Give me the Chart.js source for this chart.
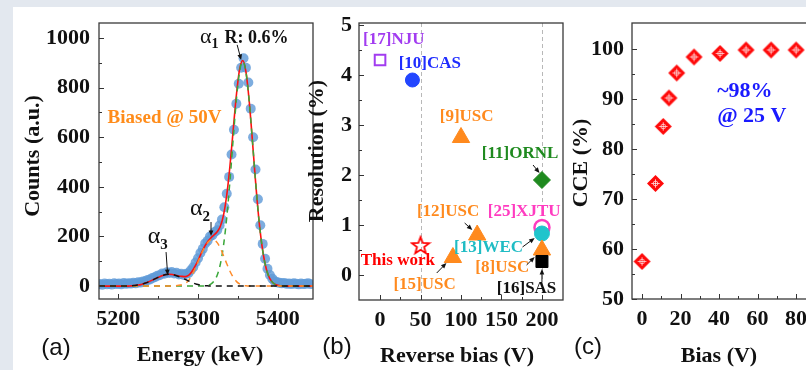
<!DOCTYPE html>
<html>
<head>
<meta charset="utf-8">
<script src="https://cdn.jsdelivr.net/npm/chart.js@4.4.1/dist/chart.umd.min.js"></script>
<style>
  html, body { margin: 0; padding: 0; width: 806px; height: 370px; overflow: hidden; background: #e3e8ef; }
  #sheet { position: absolute; left: 13px; top: 7px; right: 0; bottom: 0; background: #fff; }
  canvas { position: absolute; left: 0; top: 0; }
</style>
</head>
<body>
<div id="sheet"></div>
<canvas id="chartA" width="806" height="370"></canvas>
<canvas id="chartB" width="806" height="370"></canvas>
<canvas id="chartC" width="830" height="370"></canvas>
<script>
/* =====================
   DATA (a) alpha spectrum
===================== */
const fitEnergy = [
  5176, 5180, 5184, 5188, 5192, 5196, 5200, 5204, 5208, 5212,
  5216, 5220, 5224, 5228, 5232, 5236, 5240, 5244, 5248, 5252,
  5256, 5260, 5264, 5268, 5272, 5276, 5280, 5284, 5288, 5292,
  5296, 5300, 5304, 5308, 5312, 5316, 5320, 5324, 5328, 5332,
  5336, 5340, 5344, 5348, 5352, 5356, 5360, 5364, 5368, 5372,
  5376, 5380, 5384, 5388, 5392, 5396, 5400, 5404, 5408, 5412,
  5416, 5420, 5424, 5428, 5432, 5436, 5440, 5444
];
const fitSum = [
  0, 0, 0, 0, 0, 0, 0, 0, 0, 0,
  1, 2, 4, 6, 10, 14, 20, 26, 32, 38,
  43, 47, 48, 47, 44, 41, 39, 38, 43, 57,
  78, 103, 132, 158, 179, 194, 206, 219, 241, 287,
  367, 484, 627, 768, 872, 909, 864, 749, 591, 424,
  277, 165, 89, 44, 20, 8, 3, 1, 0, 0,
  0, 0, 0, 0, 0, 0, 0, 0
];
const fitAlpha1 = [
  0, 0, 0, 0, 0, 0, 0, 0, 0, 0,
  0, 0, 0, 0, 0, 0, 0, 0, 0, 0,
  0, 0, 0, 0, 0, 0, 0, 0, 0, 0,
  0, 0, 0, 1, 3, 8, 20, 44, 89, 165,
  277, 424, 591, 749, 863, 905, 863, 749, 591, 424,
  277, 165, 89, 44, 20, 8, 3, 1, 0, 0,
  0, 0, 0, 0, 0, 0, 0, 0
];
const fitAlpha2 = [
  0, 0, 0, 0, 0, 0, 0, 0, 0, 0,
  0, 0, 0, 0, 0, 0, 0, 0, 0, 0,
  0, 0, 0, 0, 1, 3, 6, 11, 22, 42,
  68, 97, 128, 155, 175, 186, 186, 175, 152, 122,
  90, 60, 36, 19, 9, 4, 1, 0, 0, 0,
  0, 0, 0, 0, 0, 0, 0, 0, 0, 0,
  0, 0, 0, 0, 0, 0, 0, 0
];
const fitAlpha3 = [
  0, 0, 0, 0, 0, 0, 0, 0, 0, 0,
  1, 2, 4, 6, 10, 14, 20, 26, 32, 38,
  43, 47, 48, 47, 43, 38, 33, 27, 21, 15,
  10, 6, 4, 2, 1, 0, 0, 0, 0, 0,
  0, 0, 0, 0, 0, 0, 0, 0, 0, 0,
  0, 0, 0, 0, 0, 0, 0, 0, 0, 0,
  0, 0, 0, 0, 0, 0, 0, 0
];
const dotEnergy = [
  5177, 5180, 5183, 5186, 5189, 5192, 5195, 5198, 5201, 5204,
  5207, 5210, 5213, 5216, 5219, 5222, 5225, 5228, 5231, 5234,
  5237, 5240, 5243, 5246, 5249, 5252, 5255, 5258, 5261, 5264,
  5267, 5270, 5273, 5276, 5279, 5282, 5285, 5288, 5291, 5294,
  5297, 5300, 5303, 5306, 5309, 5312, 5315, 5318, 5321, 5324,
  5327, 5330, 5333, 5336, 5339, 5342, 5345, 5348, 5351, 5354,
  5357, 5360, 5363, 5366, 5369, 5372, 5375, 5378, 5381, 5384,
  5387, 5390, 5393, 5396, 5399, 5402, 5405, 5408, 5411, 5414,
  5417, 5420, 5423, 5426, 5429, 5432, 5435, 5438, 5441
];
const dotCounts = [
  8, 5, 10, 7, 9, 6, 11, 8, 10, 7,
  12, 9, 11, 10, 13, 11, 15, 14, 19, 20,
  25, 27, 33, 36, 42, 44, 51, 50, 56, 53,
  57, 51, 54, 47, 50, 45, 50, 52, 64, 76,
  95, 112, 133, 150, 172, 183, 200, 205, 218, 225,
  244, 268, 318, 372, 440, 530, 630, 735, 815, 880,
  918, 880, 820, 715, 600, 470, 350, 245, 170, 110,
  70, 45, 30, 20, 15, 13, 11, 12, 9, 10,
  8, 11, 9, 7, 10, 8, 9, 11, 8
];
const energyTicks = [5200, 5300, 5400];
const energyMinor = [5250, 5350];
const countTicks = [0, 200, 400, 600, 800, 1000];
const countMinor = [100, 300, 500, 700, 900];

/* =====================
   DATA (b) resolution vs bias
===================== */
const refNames = ['[17]NJU', '[10]CAS', '[9]USC', '[11]ORNL', '[12]USC', '[25]XJTU',
                  '[13]WEC', 'This work', '[8]USC', '[15]USC', '[16]SAS'];
const refBias = [0, 40, 100, 200, 120, 200, 200, 50, 200, 90, 200];
const refRes = [4.3, 3.9, 2.75, 1.9, 0.8, 0.95, 0.83, 0.6, 0.5, 0.35, 0.27];
const reverseTicks = [0, 50, 100, 150, 200];
const reverseMinor = [25, 75, 125, 175];
const resTicks = [0, 1, 2, 3, 4, 5];
const resMinor = [0.5, 1.5, 2.5, 3.5, 4.5];

/* =====================
   DATA (c) CCE vs bias
===================== */
const cceBias = [0, 7, 11, 14, 18, 27, 40.5, 54, 67, 80];
const cceValue = [57.5, 73.1, 84.5, 90.2, 95.2, 98.4, 99.1, 99.8, 99.8, 99.8];
const biasTicks = [0, 20, 40, 60, 80];
const biasMinor = [10, 30, 50, 70];
const cceTicks = [50, 60, 70, 80, 90, 100];
const cceMinor = [55, 65, 75, 85, 95];

/* =====================
   HELPERS
===================== */
const SERIF = '"Liberation Serif", "Times New Roman", serif';
const SANS = '"Liberation Sans", Arial, sans-serif';
Chart.defaults.font.family = SERIF;

const pts = (xs, ys) => xs.map((x, i) => ({ x, y: ys[i] }));

function axis(min, max, ticks, size, horizontal, pad) {
  return {
    type: 'linear', min, max,
    grid: { display: false, drawTicks: false },
    border: { display: false },
    afterBuildTicks: s => { s.ticks = ticks.map(v => ({ value: v })); },
    afterFit: s => { if (horizontal) s.height = size; else s.width = size; },
    ticks: {
      font: { size: 22, weight: 'bold' }, color: '#111', padding: pad,
      maxRotation: 0, autoSkip: false, callback: v => String(v)
    }
  };
}

function arrow(ctx, x1, y1, x2, y2, color) {
  const ang = Math.atan2(y2 - y1, x2 - x1), h = 6;
  ctx.strokeStyle = color; ctx.fillStyle = color; ctx.lineWidth = 1;
  ctx.beginPath();
  ctx.moveTo(x1, y1);
  ctx.lineTo(x2 - Math.cos(ang) * h * 0.8, y2 - Math.sin(ang) * h * 0.8);
  ctx.stroke();
  ctx.beginPath();
  ctx.moveTo(x2, y2);
  ctx.lineTo(x2 - h * Math.cos(ang - 0.4), y2 - h * Math.sin(ang - 0.4));
  ctx.lineTo(x2 - h * Math.cos(ang + 0.4), y2 - h * Math.sin(ang + 0.4));
  ctx.closePath();
  ctx.fill();
}

function alphaText(ctx, x, y, sub, size) {
  ctx.fillStyle = '#111';
  ctx.textAlign = 'left'; ctx.textBaseline = 'alphabetic';
  ctx.font = `${size}px ${SERIF}`;
  ctx.fillText('α', x, y);
  const w = ctx.measureText('α').width;
  ctx.font = `bold ${Math.round(size * 0.62)}px ${SERIF}`;
  ctx.fillText(sub, x + w, y + size * 0.25);
  return x + w + ctx.measureText(sub).width;
}

// frame, inward ticks, titles, extra drawing
function deco(cfg) {
  return {
    id: 'deco',
    beforeDatasetsDraw(chart) {
      if (!cfg.guides) return;
      const { ctx, chartArea: a, scales: { x } } = chart;
      ctx.save();
      ctx.strokeStyle = '#b8b8b8'; ctx.lineWidth = 1; ctx.setLineDash([4, 3]);
      cfg.guides.forEach(v => {
        const p = Math.round(x.getPixelForValue(v)) + 0.5;
        ctx.beginPath(); ctx.moveTo(p, a.top); ctx.lineTo(p, a.bottom); ctx.stroke();
      });
      ctx.restore();
    },
    afterDraw(chart) {
      const { ctx, chartArea: a, scales: { x, y } } = chart;
      ctx.save();
      ctx.strokeStyle = '#333'; ctx.lineWidth = 1;
      ctx.beginPath();
      const tx = (vals, len) => vals.forEach(v => {
        const p = Math.round(x.getPixelForValue(v)) + 0.5;
        ctx.moveTo(p, a.bottom); ctx.lineTo(p, a.bottom - len);
      });
      const ty = (vals, len) => vals.forEach(v => {
        const p = Math.round(y.getPixelForValue(v)) + 0.5;
        ctx.moveTo(a.left, p); ctx.lineTo(a.left + len, p);
      });
      tx(cfg.xMajor, 5); tx(cfg.xMinor, 3); ty(cfg.yMajor, 5); ty(cfg.yMinor, 3);
      ctx.stroke();
      ctx.lineWidth = 1.3; ctx.strokeStyle = '#3a3a3a';
      ctx.strokeRect(a.left, a.top, a.right - a.left, a.bottom - a.top);

      ctx.fillStyle = '#111';
      ctx.textAlign = 'center'; ctx.textBaseline = 'middle';
      ctx.font = `bold 22px ${SERIF}`;
      ctx.fillText(cfg.xTitle, cfg.xTitleAt[0], cfg.xTitleAt[1]);
      ctx.save();
      ctx.translate(cfg.yTitleAt[0], cfg.yTitleAt[1]);
      ctx.rotate(-Math.PI / 2);
      ctx.fillText(cfg.yTitle, 0, 0);
      ctx.restore();
      ctx.font = `24px ${SANS}`;
      ctx.fillText(cfg.letter, cfg.letterAt[0], cfg.letterAt[1]);
      if (cfg.extra) cfg.extra(ctx, x, y);
      ctx.restore();
    }
  };
}

/* =====================
   (a) SPECTRUM
===================== */
const dash = [6, 5];
new Chart(document.getElementById('chartA'), {
  type: 'line',
  data: {
    datasets: [
      { data: pts(fitEnergy, fitAlpha3), borderColor: '#111', borderWidth: 1.5, borderDash: dash,
        pointRadius: 0, cubicInterpolationMode: 'monotone', order: 0 },
      { data: pts(fitEnergy, fitAlpha2), borderColor: '#ff8c2a', borderWidth: 1.5, borderDash: dash,
        pointRadius: 0, cubicInterpolationMode: 'monotone', order: 1 },
      { data: pts(fitEnergy, fitAlpha1), borderColor: '#3aa83a', borderWidth: 1.5, borderDash: dash,
        pointRadius: 0, cubicInterpolationMode: 'monotone', order: 2 },
      { data: pts(fitEnergy, fitSum), borderColor: '#ff1010', borderWidth: 1.6,
        pointRadius: 0, cubicInterpolationMode: 'monotone', order: 3 },
      { data: pts(dotEnergy, dotCounts), showLine: false, pointRadius: 5,
        pointBackgroundColor: 'rgba(96,155,216,0.82)', pointBorderWidth: 0, order: 4 }
    ]
  },
  options: {
    responsive: false, animation: false,
    layout: { padding: { left: 0, top: 23, right: 806 - 313, bottom: 0 } },
    plugins: { legend: { display: false }, tooltip: { enabled: false } },
    scales: {
      x: axis(5176, 5444, energyTicks, 71, true, 7),
      y: axis(-52, 1060, countTicks, 99, false, 9)
    }
  },
  plugins: [deco({
    xMajor: energyTicks, xMinor: energyMinor, yMajor: countTicks, yMinor: countMinor,
    xTitle: 'Energy (keV)', xTitleAt: [200, 355],
    yTitle: 'Counts (a.u.)', yTitleAt: [33, 156],
    letter: '(a)', letterAt: [56, 348],
    extra(ctx, x, y) {
      ctx.fillStyle = '#ff8c1a';
      ctx.font = `bold 19px ${SERIF}`;
      ctx.textAlign = 'center'; ctx.textBaseline = 'middle';
      ctx.fillText('Biased @ 50V', x.getPixelForValue(5258), y.getPixelForValue(677));

      let end = alphaText(ctx, x.getPixelForValue(5302.5), y.getPixelForValue(980), '1', 22);
      ctx.font = `bold 18px ${SERIF}`;
      ctx.fillText('R: 0.6%', end + 6, y.getPixelForValue(980));
      alphaText(ctx, x.getPixelForValue(5290), y.getPixelForValue(286), '2', 24);
      alphaText(ctx, x.getPixelForValue(5237), y.getPixelForValue(173), '3', 24);

      [[5349, 972, 5354, 911], [5316.3, 258, 5316.3, 202], [5260, 137, 5262, 44]].forEach(p =>
        arrow(ctx, x.getPixelForValue(p[0]), y.getPixelForValue(p[1]),
              x.getPixelForValue(p[2]), y.getPixelForValue(p[3]), '#111'));
    }
  })]
});

/* =====================
   (b) COMPARISON
===================== */
function starMark(color, r) {
  const c = document.createElement('canvas');
  const s = Math.ceil(r * 2 + 4);
  c.width = c.height = s;
  const g = c.getContext('2d');
  g.strokeStyle = color; g.lineWidth = 1.8; g.lineJoin = 'miter';
  g.beginPath();
  for (let i = 0; i < 10; i++) {
    const a = -Math.PI / 2 + i * Math.PI / 5;
    const rr = i % 2 ? r * 0.42 : r;
    g.lineTo(s / 2 + rr * Math.cos(a), s / 2 + 1 + rr * Math.sin(a));
  }
  g.closePath(); g.stroke();
  return c;
}

const refColor = ['#a23cf0', '#2346ff', '#ff8a1e', '#1f8a1f', '#ff8a1e', '#ff3cc0',
                  '#1fc4cc', '#ff0000', '#ff8a1e', '#ff8a1e', '#000000'];
const refFill = ['#ffffff', '#2346ff', '#ff8a1e', '#1f8a1f', '#ff8a1e', '#ffffff',
                 '#1fc4cc', 'rgba(0,0,0,0)', '#ff8a1e', '#ff8a1e', '#000000'];
const refStyle = ['rect', 'circle', 'triangle', 'rectRot', 'triangle', 'circle',
                  'circle', starMark('#ff0000', 9), 'triangle', 'triangle', 'rect'];
const refSize = [7.5, 7, 10, 8.5, 10, 7.5, 7.5, 9, 10, 10, 8.5];
const refLine = [2, 1, 1, 1, 1, 2.5, 1, 1, 1, 1, 1];
const refTextColor = ['#a23cf0', '#1f2cff', '#ff8a1e', '#1f8a1f', '#ff8a1e', '#ff3cc0',
                      '#1fbcc4', '#ff0000', '#ff8a1e', '#ff8a1e', '#111111'];
const refTextAt = [[17, 4.7], [61.5, 4.22], [107, 3.16], [173, 2.42], [84, 1.26], [178, 1.26],
                   [134, 0.54], [22, 0.28], [151, 0.14], [55, -0.2], [181, -0.28]];
const refArrows = [[189, 2.2, 197, 2.04], [104.5, 1.04, 114, 0.9], [176, 0.56, 191, 0.74],
                   [181, 0.2, 191, 0.36], [70, 0.04, 82, 0.24], [200, -0.14, 200, 0.12]];

new Chart(document.getElementById('chartB'), {
  type: 'scatter',
  data: {
    datasets: [{
      data: pts(refBias, refRes),
      pointStyle: refStyle, pointRadius: refSize,
      pointBackgroundColor: refFill, pointBorderColor: refColor, pointBorderWidth: refLine
    }]
  },
  options: {
    responsive: false, animation: false,
    layout: { padding: { left: 0, top: 23, right: 806 - 563, bottom: 0 } },
    plugins: { legend: { display: false }, tooltip: { enabled: false } },
    scales: {
      x: axis(-26, 226, reverseTicks, 70, true, 7),
      y: axis(-0.5, 5.04, resTicks, 359, false, 7)
    }
  },
  plugins: [deco({
    guides: [50, 200],
    xMajor: reverseTicks, xMinor: reverseMinor, yMajor: resTicks, yMinor: resMinor,
    xTitle: 'Reverse bias (V)', xTitleAt: [457, 356],
    yTitle: 'Resolution (%)', yTitleAt: [317, 151],
    letter: '(b)', letterAt: [337, 347],
    extra(ctx, x, y) {
      ctx.font = `bold 17px ${SERIF}`;
      ctx.textAlign = 'center'; ctx.textBaseline = 'middle';
      refNames.forEach((n, i) => {
        ctx.fillStyle = refTextColor[i];
        ctx.fillText(n, x.getPixelForValue(refTextAt[i][0]), y.getPixelForValue(refTextAt[i][1]));
      });
      refArrows.forEach(p =>
        arrow(ctx, x.getPixelForValue(p[0]), y.getPixelForValue(p[1]),
              x.getPixelForValue(p[2]), y.getPixelForValue(p[3]), '#111'));
    }
  })]
});

/* =====================
   (c) CCE
===================== */
function cceMark(r) {
  const c = document.createElement('canvas');
  const s = Math.ceil(r * 2 + 2);
  c.width = c.height = s;
  const g = c.getContext('2d'), m = s / 2;
  g.fillStyle = '#ff0a0a';
  g.beginPath();
  g.moveTo(m, m - r); g.lineTo(m + r, m); g.lineTo(m, m + r); g.lineTo(m - r, m);
  g.closePath(); g.fill();
  g.strokeStyle = 'rgba(255,255,255,0.75)'; g.lineWidth = 0.9;
  g.beginPath();
  g.moveTo(m - r * 0.5, m); g.lineTo(m + r * 0.5, m);
  g.moveTo(m, m - r * 0.5); g.lineTo(m, m + r * 0.5);
  g.stroke();
  g.beginPath(); g.arc(m, m, r * 0.28, 0, Math.PI * 2); g.stroke();
  return c;
}

new Chart(document.getElementById('chartC'), {
  type: 'scatter',
  data: {
    datasets: [{
      data: pts(cceBias, cceValue),
      pointStyle: cceMark(8.5), pointRadius: 8.5
    }]
  },
  options: {
    responsive: false, animation: false,
    layout: { padding: { left: 0, top: 23, right: 830 - 815, bottom: 0 } },
    plugins: { legend: { display: false }, tooltip: { enabled: false } },
    scales: {
      x: axis(-5.2, 89.8, biasTicks, 71, true, 7),
      y: axis(50, 105.2, cceTicks, 632, false, 8)
    }
  },
  plugins: [deco({
    xMajor: biasTicks, xMinor: biasMinor, yMajor: cceTicks, yMinor: cceMinor,
    xTitle: 'Bias (V)', xTitleAt: [719, 356],
    yTitle: 'CCE (%)', yTitleAt: [581, 163],
    letter: '(c)', letterAt: [588, 347],
    extra(ctx, x, y) {
      ctx.fillStyle = '#1a1aff';
      ctx.font = `bold 22px ${SERIF}`;
      ctx.textAlign = 'left'; ctx.textBaseline = 'alphabetic';
      ctx.fillText('~98%', x.getPixelForValue(39), y.getPixelForValue(90.4));
      ctx.fillText('@ 25 V', x.getPixelForValue(39), y.getPixelForValue(85.4));
    }
  })]
});
</script>
</body>
</html>
